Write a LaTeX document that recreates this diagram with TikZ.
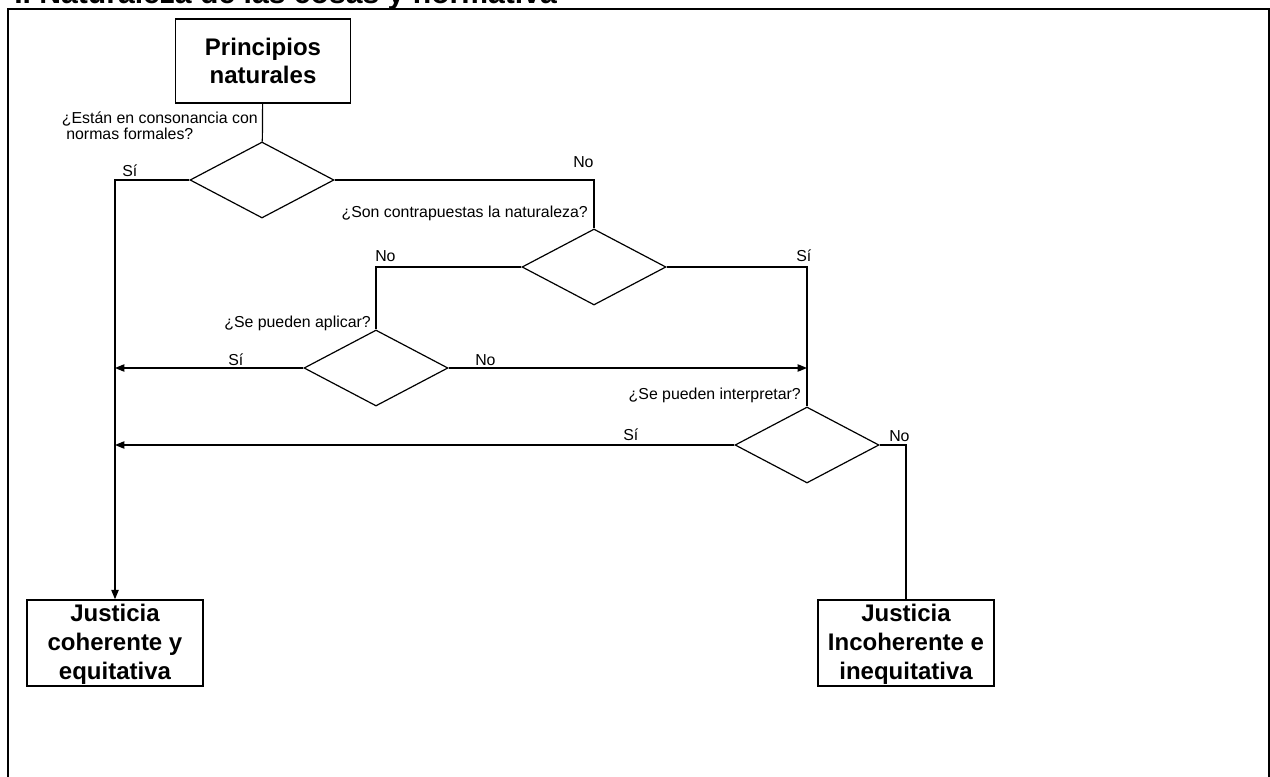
\documentclass[tikz,border=0pt]{standalone}
\usepackage{fontspec}
\setmainfont{Liberation Sans}
\usetikzlibrary{positioning, arrows.meta, shapes.geometric}

\begin{document}
\begin{tikzpicture}[x=0.75pt, y=-0.75pt,
    caja/.style={draw, line width=1.1pt, minimum width=131pt, minimum height=63pt,
                 inner sep=0pt, align=center, font=\fontsize{18}{21.5}\selectfont\bfseries},
    rombo/.style={draw, diamond, line width=0.9pt, minimum width=108pt, minimum height=57pt, inner sep=0pt},
    pregunta/.style={inner sep=0pt, align=left, font=\fontsize{11.9}{11.9}\selectfont},
    respuesta/.style={inner sep=0pt, anchor=base west, font=\fontsize{11.9}{11.9}\selectfont},
    linea/.style={line width=0.9pt},
    flecha/.style={line width=0.9pt, -{Triangle[length=7pt, width=5.5pt]}}]
    \useasboundingbox (0,0) rectangle (1270,777);
    % marco y titulo
    \node[anchor=base west, inner sep=0pt, font=\fontsize{22.6}{22.6}\selectfont\bfseries]
      (titulo) at (14,4) {I. Naturaleza de las cosas y normativa};
    \draw[line width=1.5pt] (8,800) -- (8,9) -- (1269,9) -- (1269,800);

    % cajas y decisiones
    \node[caja] (principios) at (263,61) {Principios\\naturales};
    \node[rombo] (consonancia) at (262,180) {};
    \node[rombo] (contrapuestas) at (594,267) {};
    \node[rombo] (aplicar) at (376,368) {};
    \node[rombo] (interpretar) at (807,445) {};
    \node[caja, minimum width=132pt, minimum height=64.5pt] (coherente) at (115,643)
      {\strut Justicia\\coherente y\\equitativa};
    \node[caja, minimum width=132pt, minimum height=64.5pt] (incoherente) at (906,643)
      {\strut Justicia\\Incoherente e\\inequitativa};

    % preguntas
    \node[pregunta, anchor=east] (pConsonancia) at (258,126)
      {¿Están en consonancia con\\\ normas formales?};
    \node[pregunta, anchor=east] (pContrapuestas) at (588,213) {¿Son contrapuestas la naturaleza?};
    \node[pregunta, anchor=east] (pAplicar) at (371,323) {¿Se pueden aplicar?};
    \node[pregunta, anchor=east] (pInterpretar) at (801,395) {¿Se pueden interpretar?};

    % conectores
    \draw[linea] (principios) -- (consonancia);
    \draw[flecha] (consonancia.west) -| (coherente.north);
    \draw[linea] (consonancia.east) -| (contrapuestas.north);
    \draw[linea] (contrapuestas.west) -| (aplicar.north);
    \draw[linea] (contrapuestas.east) -| (interpretar.north);
    \draw[flecha] (aplicar.west) -- (aplicar.west -| coherente.north);
    \draw[flecha] (aplicar.east) -- (aplicar.east -| interpretar.north);
    \draw[flecha] (interpretar.west) -- (interpretar.west -| coherente.north);
    \draw[linea] (interpretar.east) -| (incoherente.north);

    % respuestas
    \node[respuesta] (siConsonancia) at (122,177) {Sí};
    \node[respuesta] (noConsonancia) at (573,168) {No};
    \node[respuesta] (noContrapuestas) at (375,262) {No};
    \node[respuesta] (siContrapuestas) at (796,262) {Sí};
    \node[respuesta] (siAplicar) at (228,365) {Sí};
    \node[respuesta] (noAplicar) at (475,365) {No};
    \node[respuesta] (siInterpretar) at (623,440) {Sí};
    \node[respuesta] (noInterpretar) at (889,441) {No};
  \end{tikzpicture}
\end{document}
